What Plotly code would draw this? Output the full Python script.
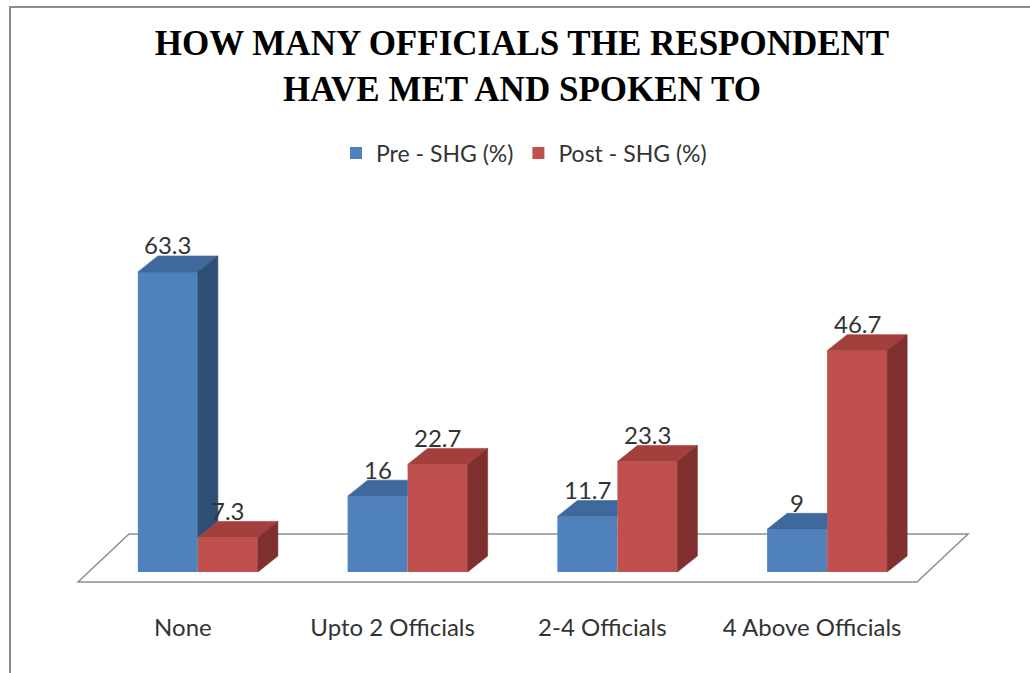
import plotly.graph_objects as go

# ---- data -------------------------------------------------------------
categories = ["None", "Upto 2 Officials", "2-4 Officials", "4 Above Officials"]
series_names = ["Pre - SHG (%)", "Post - SHG (%)"]
pre_shg = [63.3, 16, 11.7, 9]
post_shg = [7.3, 22.7, 23.3, 46.7]

# ---- geometry / style -------------------------------------------------
W, H = 1030, 673
PLOT_BOTTOM_PX = 590          # plot area spans pixel rows 0..590
ZERO_PX = 572                 # pixel row of the value 0 on the bar fronts
PX_PER_UNIT = 4.74            # vertical pixels per percentage point
CAT_PX = 209.75               # horizontal pixels per category
FLOOR_LEFT_PX = 78            # left end of the floor front edge

BAR_PX = 60                   # width of one bar front
GROUP_SHIFT_PX = 15           # bars sit a little behind the floor front edge
DEPTH_DX_PX, DEPTH_DY_PX = 20, 16          # bar depth projection
FLOOR_DX_PX, FLOOR_FRONT_PX, FLOOR_BACK_PX = 51, 10, 48

FONT_SANS = "Lato"
TEXT_COLOR = "#333333"
COLORS = {  # front, top, side
    "pre": ("#4F81BD", "#3F699C", "#2F4E75"),
    "post": ("#C0504D", "#A3403D", "#7F302E"),
}

# unit conversions
dx_u = DEPTH_DX_PX / CAT_PX
dy_u = DEPTH_DY_PX / PX_PER_UNIT
bar_w = BAR_PX / CAT_PX
shift = GROUP_SHIFT_PX / CAT_PX

x_lo = -0.5 - FLOOR_LEFT_PX / CAT_PX
x_hi = -0.5 + (W - FLOOR_LEFT_PX) / CAT_PX
y_hi = ZERO_PX / PX_PER_UNIT
y_lo = -(PLOT_BOTTOM_PX - ZERO_PX) / PX_PER_UNIT

fig = go.Figure()

# front faces as bar traces
x_pos = [i + shift for i in range(len(categories))]
for name, vals, key, off in [(series_names[0], pre_shg, "pre", -bar_w),
                             (series_names[1], post_shg, "post", 0.0)]:
    fig.add_trace(go.Bar(
        x=x_pos, y=vals, name=name, width=bar_w, offset=off,
        marker=dict(color=COLORS[key][0], line=dict(width=0)),
        hoverinfo="skip",
    ))


def poly(xs, ys, color):
    fig.add_trace(go.Scatter(
        x=xs + [xs[0]], y=ys + [ys[0]], mode="lines", fill="toself",
        fillcolor=color, line=dict(color=color, width=0.6),
        showlegend=False, hoverinfo="skip",
    ))


# top and side faces, painted left to right so nearer faces cover farther ones
for i in range(len(categories)):
    c = i + shift
    p, q = pre_shg[i], post_shg[i]
    # pre bar: [c - bar_w, c]
    x0, x1 = c - bar_w, c
    if p > q:
        poly([x0, x1, x1 + dx_u, x0 + dx_u], [p, p, p + dy_u, p + dy_u], COLORS["pre"][1])
        poly([x1, x1 + dx_u, x1 + dx_u, x1], [q, q + dy_u, p + dy_u, p], COLORS["pre"][2])
    else:
        # the part of the top face behind the post bar front is hidden
        poly([x0, x1, x1, x0 + dx_u], [p, p, p + dy_u, p + dy_u], COLORS["pre"][1])
    # post bar: [c, c + bar_w]
    x0, x1 = c, c + bar_w
    poly([x0, x1, x1 + dx_u, x0 + dx_u], [q, q, q + dy_u, q + dy_u], COLORS["post"][1])
    poly([x1, x1 + dx_u, x1 + dx_u, x1], [0, dy_u, q + dy_u, q], COLORS["post"][2])

# value labels above each bar
for i in range(len(categories)):
    c = i + shift
    for v, xc in [(pre_shg[i], c - bar_w / 2), (post_shg[i], c + bar_w / 2)]:
        fig.add_annotation(
            x=xc, y=v, text=f"{v:g}", showarrow=False,
            xanchor="center", yanchor="middle", yshift=DEPTH_DY_PX + 11,
            font=dict(family=FONT_SANS, size=24, color=TEXT_COLOR),
        )

# floor of the 3-D plot
fy = -FLOOR_FRONT_PX / PX_PER_UNIT
by = (FLOOR_BACK_PX - FLOOR_FRONT_PX) / PX_PER_UNIT
fdx = FLOOR_DX_PX / CAT_PX
n = len(categories)
floor_path = (f"M {-0.5},{fy} L {n - 0.5},{fy} L {n - 0.5 + fdx},{by} "
              f"L {-0.5 + fdx},{by} Z")
fig.add_shape(type="path", path=floor_path, xref="x", yref="y", layer="below",
              line=dict(color="#8E8E8E", width=1.5), fillcolor="white")

# outer frame of the chart
plot_h = PLOT_BOTTOM_PX
fig.add_shape(type="rect", xref="paper", yref="paper",
              x0=10 / W, x1=1.05, y0=-0.3, y1=1 - 7 / plot_h,
              line=dict(color="#8C8C8C", width=2), layer="below")

fig.update_layout(
    width=W, height=H,
    margin=dict(l=0, r=0, t=0, b=H - PLOT_BOTTOM_PX, autoexpand=False),
    paper_bgcolor="white", plot_bgcolor="white",
    barmode="overlay",
    title=dict(
        text="HOW MANY OFFICIALS THE RESPONDENT<br>HAVE MET AND SPOKEN TO",
        x=522 / W, xanchor="center", xref="paper",
        y=1 - 55 / H, yanchor="top", yref="container",
        font=dict(family="Liberation Serif", size=35, color="black", weight="bold"),
    ),
    legend=dict(
        orientation="h", x=524 / W, xanchor="center",
        y=1 - 153 / plot_h, yanchor="middle",
        font=dict(family=FONT_SANS, size=23, color=TEXT_COLOR),
        bgcolor="rgba(0,0,0,0)",
    ),
    xaxis=dict(
        range=[x_lo, x_hi], tickvals=list(range(n)), ticktext=categories,
        showgrid=False, zeroline=False, showline=False, ticks="",
        ticklabelstandoff=21,
        tickfont=dict(family=FONT_SANS, size=24, color=TEXT_COLOR),
        fixedrange=True,
    ),
    yaxis=dict(range=[y_lo, y_hi], visible=False, fixedrange=True),
    showlegend=True,
)

fig.write_html("out.html")
